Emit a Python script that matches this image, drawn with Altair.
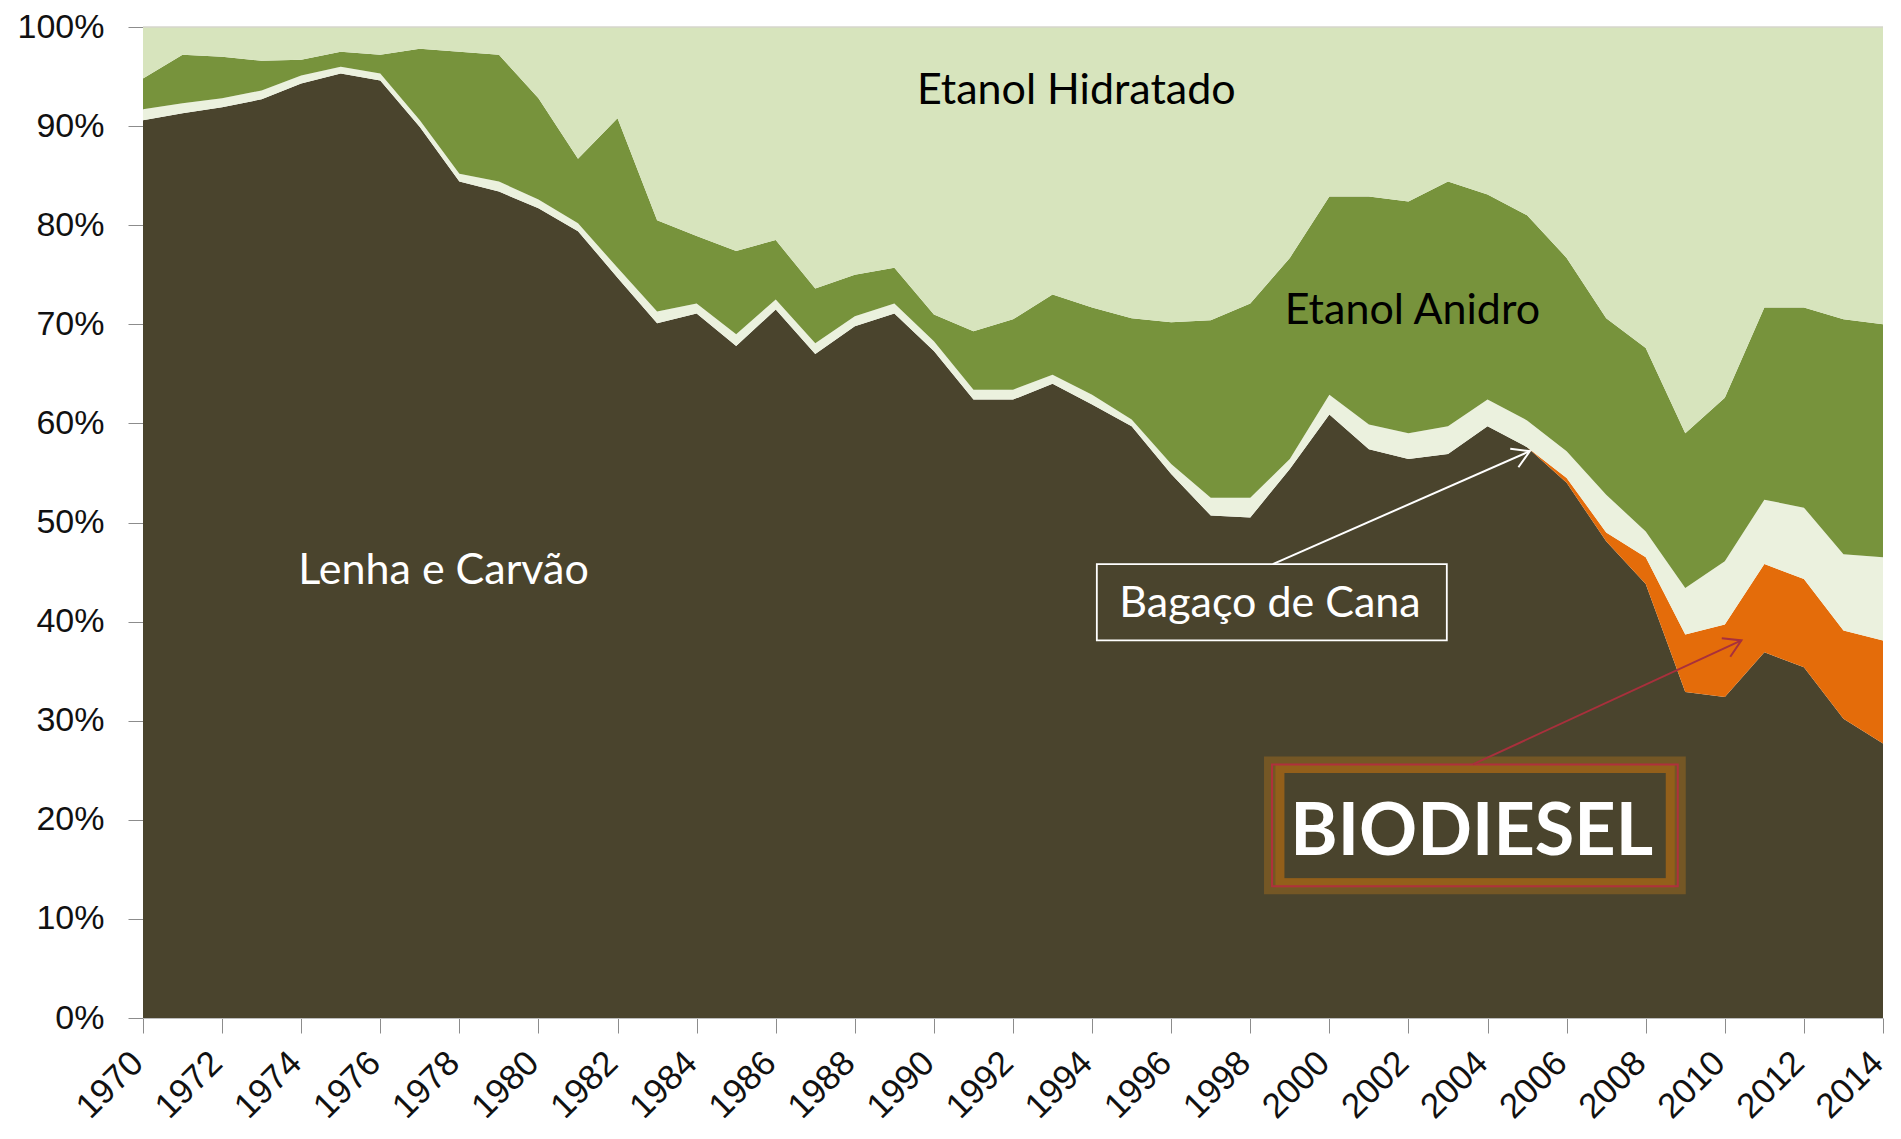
import altair as alt
import pandas as pd

years = list(range(1970, 2015))

lenha = [90.6, 91.3, 91.9, 92.7, 94.3, 95.3, 94.6, 89.9, 84.4, 83.4,
         81.7, 79.4, 74.7, 70.1, 71.1, 67.8, 71.5, 67.0, 69.8, 71.1,
         67.3, 62.4, 62.4, 64.0, 61.9, 59.7, 54.9, 50.7, 50.5, 55.4,
         60.9, 57.4, 56.4, 56.9, 59.7, 57.6, 54.0, 48.1, 43.8, 32.9,
         32.4, 36.9, 35.4, 30.2, 27.7]
biodiesel = [0.0] * 36 + [0.5, 0.9, 2.7, 5.8, 7.3, 8.9, 8.9, 8.9, 10.4]
bagaco = [1.1, 1.0, 0.9, 0.9, 0.8, 0.7, 0.7, 0.7, 0.8, 1.0,
          0.9, 0.8, 1.0, 1.2, 1.0, 1.2, 1.0, 1.1, 1.0, 1.0,
          1.0, 1.0, 1.0, 0.9, 1.0, 0.7, 1.0, 1.8, 2.0, 1.0,
          2.0, 2.5, 2.6, 2.8, 2.7, 2.7, 2.7, 3.8, 2.6, 4.7,
          6.4, 6.5, 7.2, 7.7, 8.4]
anidro = [3.1, 4.9, 4.2, 3.0, 1.6, 1.5, 1.9, 7.2, 12.3, 12.8,
          10.2, 6.5, 15.1, 9.2, 6.8, 8.4, 6.0, 5.5, 4.2, 3.6,
          2.7, 5.9, 7.1, 8.1, 8.8, 10.2, 14.3, 17.9, 19.6, 20.3,
          20.0, 23.0, 23.4, 24.7, 20.7, 20.7, 19.5, 17.8, 18.5, 15.6,
          16.5, 19.4, 20.2, 23.7, 23.5]
hidratado = [5.2, 2.8, 3.0, 3.4, 3.3, 2.5, 2.8, 2.2, 2.5, 2.8,
             7.2, 13.3, 9.2, 19.5, 21.1, 22.6, 21.5, 26.4, 25.0, 24.3,
             29.0, 30.7, 29.5, 27.0, 28.3, 29.4, 29.8, 29.6, 27.9, 23.3,
             17.1, 17.1, 17.6, 15.6, 16.9, 19.0, 23.3, 29.4, 32.4, 41.0,
             37.4, 28.3, 28.3, 29.5, 30.0]

series_names = ["Lenha e Carvão", "Biodiesel", "Bagaço de Cana",
                "Etanol Anidro", "Etanol Hidratado"]
series_values = [lenha, biodiesel, bagaco, anidro, hidratado]
series_colors = ["#4a442d", "#e46c0a", "#ebf1de", "#77933c", "#d7e4bd"]

rows = []
for k, (name, vals) in enumerate(zip(series_names, series_values)):
    for yr, v in zip(years, vals):
        rows.append({"year": yr, "share": v, "series": name, "ord": k})
df = pd.DataFrame(rows)

FONT_AX = "Liberation Sans"
FONT_TX = "Lato"

x_scale = alt.Scale(domain=[1970, 2014], nice=False, zero=False)
y_scale = alt.Scale(domain=[0, 1], nice=False)

area = alt.Chart(df).mark_area(interpolate="linear").encode(
    x=alt.X("year:Q", scale=x_scale, title=None,
            axis=alt.Axis(values=years, format="d", labelExpr="datum.value % 2 == 0 ? datum.label : ''",
                          labelAngle=-45, labelAlign="right", labelBaseline="middle",
                          labelFont=FONT_AX, labelFontSize=35, labelColor="#111",
                          labelPadding=24, labelOffset=-6, labelOverlap=False, labelFlush=False,
                          tickSize=15, tickColor="#8c8c8c", domainColor="#bdbdbd",
                          grid=False)),
    y=alt.Y("share:Q", stack="normalize", scale=y_scale, title=None,
            axis=alt.Axis(values=[i / 10 for i in range(11)], format=".0%",
                          labelFont=FONT_AX, labelFontSize=34, labelColor="#111",
                          labelPadding=24, tickSize=15, tickColor="#8c8c8c",
                          domainColor="#bdbdbd", grid=False)),
    color=alt.Color("series:N", scale=alt.Scale(domain=series_names, range=series_colors), legend=None),
    order=alt.Order("ord:Q", sort="ascending"),
)

top_line = alt.Chart(pd.DataFrame({"v": [1.0]})).mark_rule(color="#d6d6cc", strokeWidth=1.5).encode(
    y=alt.Y("v:Q", scale=y_scale))

# text labels (positions in data units: year, fraction)
lab = pd.DataFrame({
    "t": ["Etanol Hidratado", "Etanol Anidro", "Lenha e Carvão", "Bagaço de Cana"],
    "x": [1993.6, 2002.1, 1977.6, 1998.5],
    "y": [0.922, 0.700, 0.438, 0.405],
    "c": ["black", "black", "white", "white"],
})
labels = alt.Chart(lab).mark_text(font=FONT_TX, fontSize=43, align="center", baseline="alphabetic").encode(
    x=alt.X("x:Q", scale=x_scale), y=alt.Y("y:Q", scale=y_scale),
    text="t:N", color=alt.Color("c:N", scale=None))

# Bagaço box
bag_box = alt.Chart(pd.DataFrame({"x": [1994.12], "x2": [2002.97], "y": [0.458], "y2": [0.381]})).mark_rect(
    fillOpacity=0, stroke="white", strokeWidth=1.8).encode(
    x=alt.X("x:Q", scale=x_scale), x2="x2:Q", y=alt.Y("y:Q", scale=y_scale), y2="y2:Q")

# BIODIESEL box (soft glow, orange band, red line)
box = dict(x=[1998.55], x2=[2008.81], y=[0.2558], y2=[0.1329])
band = dict(x=[1998.75], x2=[2008.62], y=[0.2518], y2=[0.1366])


def box_layer(d, **kw):
    return alt.Chart(pd.DataFrame(d)).mark_rect(fillOpacity=0, **kw).encode(
        x=alt.X("x:Q", scale=x_scale), x2="x2:Q", y=alt.Y("y:Q", scale=y_scale), y2="y2:Q")


bio_glow = box_layer(box, stroke="#a86e1c", strokeWidth=16, strokeOpacity=0.45)
bio_band = box_layer(band, stroke="#935f1a", strokeWidth=9, strokeOpacity=1)
bio_line = box_layer(box, stroke="#b0303c", strokeWidth=2)
bio_text = alt.Chart(pd.DataFrame({"t": ["BIODIESEL"], "x": [2003.6], "y": [0.164]})).mark_text(
    font=FONT_TX, fontSize=72, fontWeight="bold", color="white", align="center", baseline="alphabetic").encode(
    x=alt.X("x:Q", scale=x_scale), y=alt.Y("y:Q", scale=y_scale), text="t:N")

# arrows
arr = pd.DataFrame({
    "x": [1998.57, 2003.63], "y": [0.458, 0.256],
    "x2": [2005.07, 2010.42], "y2": [0.572, 0.381],
    "c": ["white", "#a8303c"], "ang": [336.3, 335.3],
})
arr_lines = alt.Chart(arr).mark_rule(strokeWidth=2).encode(
    x=alt.X("x:Q", scale=x_scale), y=alt.Y("y:Q", scale=y_scale), x2="x2:Q", y2="y2:Q",
    color=alt.Color("c:N", scale=None))
arr_heads = alt.Chart(arr).mark_point(shape="M -1 -0.6 L 0 0 L -1 0.6", filled=False, size=1150,
                                      strokeWidth=2, opacity=1).encode(
    x=alt.X("x2:Q", scale=x_scale), y=alt.Y("y2:Q", scale=y_scale),
    angle=alt.Angle("ang:Q", scale=None), color=alt.Color("c:N", scale=None))

chart = alt.layer(area, top_line, labels, bag_box, bio_glow, bio_band, bio_line, bio_text,
                  arr_lines, arr_heads).properties(
    width=1740, height=991,
    padding={"left": 135, "top": 19, "right": 8, "bottom": 109},
    autosize=alt.AutoSizeParams(type="none"),
    background="white",
).configure_view(stroke=None)

chart.save("out.html", embed_options={"renderer": "svg", "actions": False})
